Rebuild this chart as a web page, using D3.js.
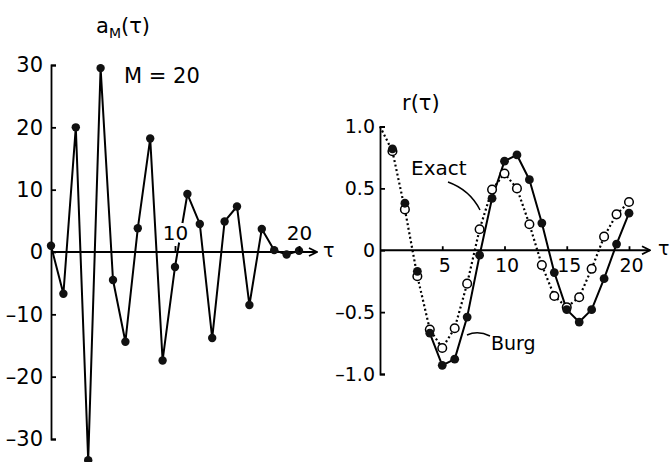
<!DOCTYPE html>
<meta charset="utf-8">
<style>

body {
  margin: 0;
  background: #fff;
}

text {
  font-family: "DejaVu Sans", "Liberation Sans", sans-serif;
  fill: #000;
}

.axis path, .axis line {
  stroke: #000;
  stroke-width: 1.8px;
}

.halo {
  paint-order: stroke;
  stroke: #fff;
  stroke-width: 6px;
  stroke-linejoin: round;
}

</style>
<svg></svg>
<script src="https://d3js.org/d3.v7.min.js"></script>
<script>

var width = 671,
    height = 462;

// lag index
var tau = [0, 1, 2, 3, 4, 5, 6, 7, 8, 9, 10, 11, 12, 13, 14, 15, 16, 17, 18, 19, 20];

// left panel: AR coefficients a_M(tau), M = 20
var aM = [1, -6.7, 20, -33.4, 29.5, -4.5, -14.4, 3.8, 18.2, -17.4, -2.4, 9.3, 4.5, -13.8, 4.9, 7.3, -8.5, 3.7, 0.3, -0.4, 0.2];
var aTicks = [-30, -20, -10, 0, 10, 20, 30];
var aTauTicks = [10, 20];

// right panel: autocorrelation r(tau)
var exact = [1, 0.80, 0.33, -0.21, -0.64, -0.79, -0.63, -0.27, 0.17, 0.49, 0.62, 0.50, 0.21, -0.12, -0.37, -0.46, -0.38, -0.15, 0.11, 0.29, 0.39];
var burg = [1, 0.82, 0.38, -0.17, -0.67, -0.93, -0.88, -0.54, -0.04, 0.42, 0.72, 0.77, 0.57, 0.22, -0.18, -0.48, -0.58, -0.48, -0.23, 0.05, 0.30];
var rTicks = [-1, -0.5, 0, 0.5, 1];
var rTauTicks = [5, 10, 15, 20];

var svg = d3.select("svg")
    .attr("width", width)
    .attr("height", height);

svg.append("defs").append("marker")
    .attr("id", "arrow")
    .attr("viewBox", "0 0 10 10")
    .attr("refX", 9)
    .attr("refY", 5)
    .attr("markerWidth", 10)
    .attr("markerHeight", 10)
    .attr("markerUnits", "userSpaceOnUse")
    .attr("orient", "auto")
  .append("path")
    .attr("d", "M1,1L9,5L1,9")
    .attr("fill", "none")
    .attr("stroke", "#000")
    .attr("stroke-width", 1.8);

function minus(d) {
  return d < 0 ? "\u2013" + (-d) : "" + d;
}

function styleAxis(g, size) {
  g.attr("font-family", null).attr("font-size", null);
  g.selectAll("text").style("font-size", size + "px");
}

// ---------- left panel ----------
var xL = d3.scaleLinear().domain([0, 20]).range([51, 299]),
    yL = d3.scaleLinear().domain([-30, 30]).range([439, 65]);

var left = svg.append("g");

left.append("line")
    .attr("x1", xL(0))
    .attr("x2", 317)
    .attr("y1", yL(0))
    .attr("y2", yL(0))
    .attr("stroke", "#000")
    .attr("stroke-width", 1.8)
    .attr("marker-end", "url(#arrow)");

left.append("g")
    .attr("class", "axis")
    .attr("transform", "translate(" + xL(0) + ",0)")
    .call(d3.axisLeft(yL).tickValues(aTicks).tickSizeInner(-5).tickSizeOuter(-5).tickPadding(8).tickFormat(minus))
    .call(styleAxis, 21);

left.append("path")
    .datum(aM)
    .attr("fill", "none")
    .attr("stroke", "#000")
    .attr("stroke-width", 2)
    .attr("stroke-linejoin", "round")
    .attr("d", d3.line().x(function(d, i) { return xL(tau[i]); }).y(function(d) { return yL(d); }));

left.selectAll(".dot")
    .data(aM)
  .enter().append("circle")
    .attr("class", "dot")
    .attr("cx", function(d, i) { return xL(tau[i]); })
    .attr("cy", function(d) { return yL(d); })
    .attr("r", 4.2)
    .attr("fill", "#111");

var ax = left.append("g")
    .attr("class", "axis")
    .attr("transform", "translate(0," + yL(0) + ")")
    .call(d3.axisTop(xL).tickValues(aTauTicks).tickSize(6).tickPadding(6))
    .call(styleAxis, 20);
ax.select(".domain").remove();
ax.selectAll("text").attr("class", "halo");

var aTitle = left.append("text")
    .attr("x", 96)
    .attr("y", 33)
    .style("font-size", "21px");
aTitle.append("tspan").text("a");
aTitle.append("tspan").attr("dy", 5).style("font-size", "14px").text("M");
aTitle.append("tspan").attr("dy", -5).text("(\u03c4)");

left.append("text")
    .attr("x", 124)
    .attr("y", 83)
    .style("font-size", "21px")
    .text("M = 20");

left.append("text")
    .attr("x", 323)
    .attr("y", 257)
    .style("font-size", "19px")
    .text("\u03c4");

// ---------- right panel ----------
var xR = d3.scaleLinear().domain([0, 20]).range([380, 629]),
    yR = d3.scaleLinear().domain([-1, 1]).range([374, 126.5]);

var right = svg.append("g");

right.append("line")
    .attr("x1", xR(0))
    .attr("x2", 650)
    .attr("y1", yR(0))
    .attr("y2", yR(0))
    .attr("stroke", "#000")
    .attr("stroke-width", 1.8)
    .attr("marker-end", "url(#arrow)");

right.append("g")
    .attr("class", "axis")
    .attr("transform", "translate(" + xR(0) + ",0)")
    .call(d3.axisLeft(yR).tickValues(rTicks).tickSizeInner(-5).tickSizeOuter(-5).tickPadding(5)
      .tickFormat(function(d) { return d === 0 ? "0" : (d < 0 ? "\u2013" : "") + Math.abs(d).toFixed(1); }))
    .call(styleAxis, 19);

var bx = right.append("g")
    .attr("class", "axis")
    .attr("transform", "translate(0," + yR(0) + ")")
    .call(d3.axisBottom(xR).tickValues(rTauTicks).tickSizeInner(-4).tickPadding(8))
    .call(styleAxis, 19);
bx.select(".domain").remove();
bx.selectAll("text").attr("dx", 2);

var lineR = d3.line()
    .x(function(d, i) { return xR(tau[i]); })
    .y(function(d) { return yR(d); });

right.append("path")
    .datum(exact)
    .attr("fill", "none")
    .attr("stroke", "#000")
    .attr("stroke-width", 2.2)
    .attr("stroke-dasharray", "2,2.6")
    .attr("d", lineR);

// Burg curve is drawn solid only where it leaves the exact one
right.append("path")
    .datum(burg.slice(4))
    .attr("fill", "none")
    .attr("stroke", "#000")
    .attr("stroke-width", 2)
    .attr("stroke-linejoin", "round")
    .attr("d", d3.line().x(function(d, i) { return xR(tau[i + 4]); }).y(function(d) { return yR(d); }));

right.selectAll(".open")
    .data(exact.slice(1))
  .enter().append("circle")
    .attr("class", "open")
    .attr("cx", function(d, i) { return xR(tau[i + 1]); })
    .attr("cy", function(d) { return yR(d); })
    .attr("r", 4.3)
    .attr("fill", "#fff")
    .attr("stroke", "#000")
    .attr("stroke-width", 1.5);

right.selectAll(".filled")
    .data(burg.slice(1))
  .enter().append("circle")
    .attr("class", "filled")
    .attr("cx", function(d, i) { return xR(tau[i + 1]); })
    .attr("cy", function(d) { return yR(d); })
    .attr("r", 4.4)
    .attr("fill", "#111");

right.append("text")
    .attr("x", 402)
    .attr("y", 110)
    .style("font-size", "21px")
    .text("r(\u03c4)");

right.append("text")
    .attr("x", 658)
    .attr("y", 255)
    .style("font-size", "19px")
    .text("\u03c4");

right.append("text")
    .attr("x", 411)
    .attr("y", 175)
    .style("font-size", "20px")
    .text("Exact");

right.append("path")
    .attr("d", "M448,182Q470,190 480,210")
    .attr("fill", "none")
    .attr("stroke", "#000")
    .attr("stroke-width", 1.5);

right.append("text")
    .attr("x", 491)
    .attr("y", 350)
    .style("font-size", "19px")
    .text("Burg");

right.append("path")
    .attr("d", "M467,335Q478,330 490,336")
    .attr("fill", "none")
    .attr("stroke", "#000")
    .attr("stroke-width", 1.5);

</script>
